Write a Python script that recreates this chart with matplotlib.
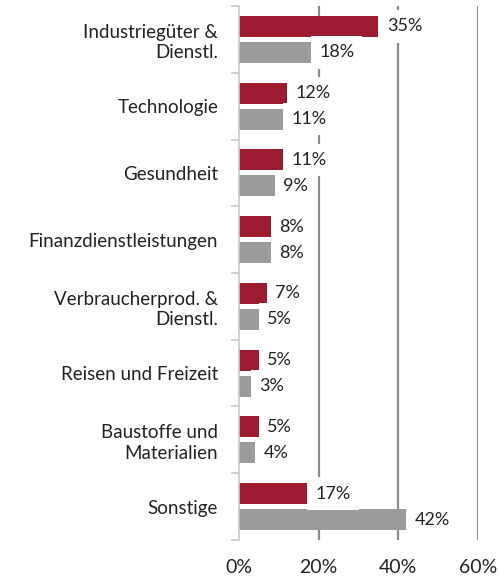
import matplotlib.pyplot as plt
import numpy as np

plt.rcParams['font.family'] = ['Lato', 'DejaVu Sans']

categories = ["Industriegüter &\nDienstl.", "Technologie", "Gesundheit",
              "Finanzdienstleistungen", "Verbraucherprod. &\nDienstl.",
              "Reisen und Freizeit", "Baustoffe und\nMaterialien", "Sonstige"]
red_values = [35, 12, 11, 8, 7, 5, 5, 17]
gray_values = [18, 11, 9, 8, 5, 3, 4, 42]
x_ticks = [0, 20, 40, 60]

red = "#9b1b30"
gray = "#9b9b9b"
text_color = "#222222"

fig = plt.figure(figsize=(4.99, 5.81), dpi=100)
ax = fig.add_axes([0.479, 0.0706, 0.479, 0.919])

y = np.arange(len(categories))
off = 0.195
h = 0.315
ax.barh(y - off, red_values, height=h, color=red, zorder=2)
ax.barh(y + off, gray_values, height=h, color=gray, zorder=2)

# Rótulos com fundo branco, cobrindo as linhas de grade
for vals, dy in [(red_values, -off), (gray_values, off)]:
    for i, v in enumerate(vals):
        ax.annotate(f"{v}%", (v, i + dy), xytext=(6, 0), textcoords="offset points",
                    ha="left", va="center", fontsize=13, color=text_color, zorder=4,
                    bbox=dict(boxstyle="square,pad=0.46", fc="white", ec="none"))

ax.set_xlim(0, 60)
ax.set_ylim(len(categories) - 0.5, -0.5)
ax.set_xticks(x_ticks)
ax.set_xticklabels([f"{t}%" for t in x_ticks], fontsize=14, color=text_color)
for t in x_ticks[1:]:
    ax.axvline(t, color="#8c8c8c", lw=1.6, zorder=1)

ax.set_yticks(y)
ax.set_yticklabels(categories, fontsize=13.5, color=text_color, linespacing=1.25)
ax.set_yticks(np.arange(len(categories) + 1) - 0.5, minor=True)
ax.tick_params(axis="y", which="major", length=0, pad=15)
ax.tick_params(axis="y", which="minor", length=6, color="#c8c8c8", width=1.2)
ax.tick_params(axis="x", length=0, pad=14)

for s in ["top", "right", "bottom"]:
    ax.spines[s].set_visible(False)
ax.spines["left"].set_color("#c8c8c8")
ax.spines["left"].set_linewidth(1.2)

fig.savefig("out.png", dpi=100)
